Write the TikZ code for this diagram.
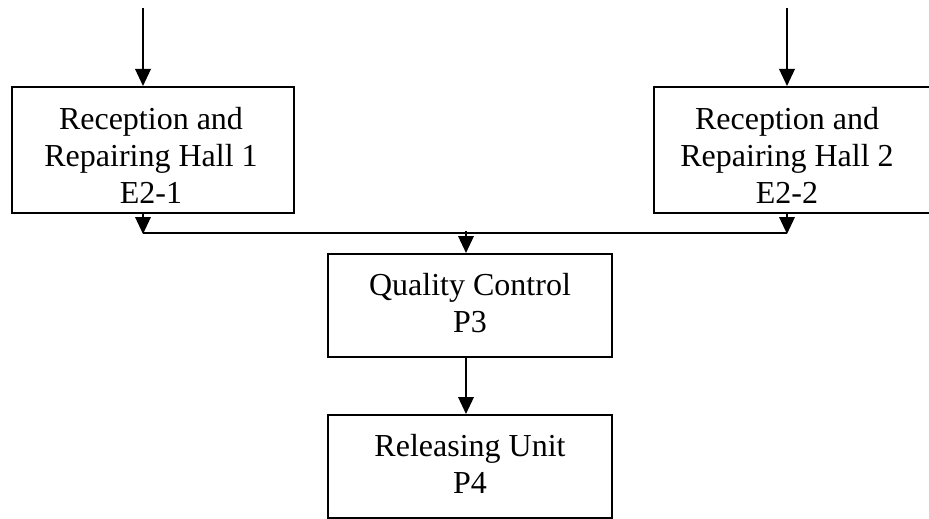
\documentclass[tikz,border=0pt]{standalone}
\usepackage{fontspec}
\setmainfont{Liberation Serif}
\usetikzlibrary{arrows.meta}
\begin{document}
\begin{tikzpicture}[x=1pt,y=-1pt,
  box/.style={draw, line width=2pt, inner sep=0pt, minimum width=282pt, minimum height=126pt},
  pbox/.style={draw, line width=2pt, inner sep=0pt, minimum width=284pt, minimum height=103pt},
  txt/.style={align=center, inner sep=0pt, anchor=base, font=\fontsize{32}{37}\selectfont},
  arr/.style={line width=2pt, -{Triangle[length=17pt,width=15.5pt]}},
  ln/.style={line width=2pt}]
\useasboundingbox (0,0) rectangle (929,519);
\node[box] (h1) at (153,150) {};
\node[box] (h2) at (795,150) {};
\node[pbox] (qc) at (470,305.5) {};
\node[pbox] (rel) at (470,466.5) {};
\node[txt] (t1) at (151,203) {Reception and\\Repairing Hall 1\\E2-1};
\node[txt] (t2) at (787,203) {Reception and\\Repairing Hall 2\\E2-2};
\node[txt] (t3) at (470,332) {Quality Control\\P3};
\node[txt] (t4) at (470,493) {Releasing Unit\\P4};
\coordinate (in1) at (143,8);
\coordinate (in2) at (787,8);
\coordinate (jl) at (143,233);
\coordinate (jr) at (787,233);
\coordinate (jm) at (466,231);
\draw[arr] (in1) -- (in1 |- h1.north);
\draw[arr] (in2) -- (in2 |- h2.north);
\draw[arr] (h1.south -| jl) -- ([yshift=-1pt]jl);
\draw[arr] (h2.south -| jr) -- ([yshift=-1pt]jr);
\draw[ln] (jl) -- (jr);
\draw[arr] (jm) -- (jm |- qc.north);
\draw[arr] (qc.south -| jm) -- (jm |- rel.north);
\end{tikzpicture}
\end{document}
